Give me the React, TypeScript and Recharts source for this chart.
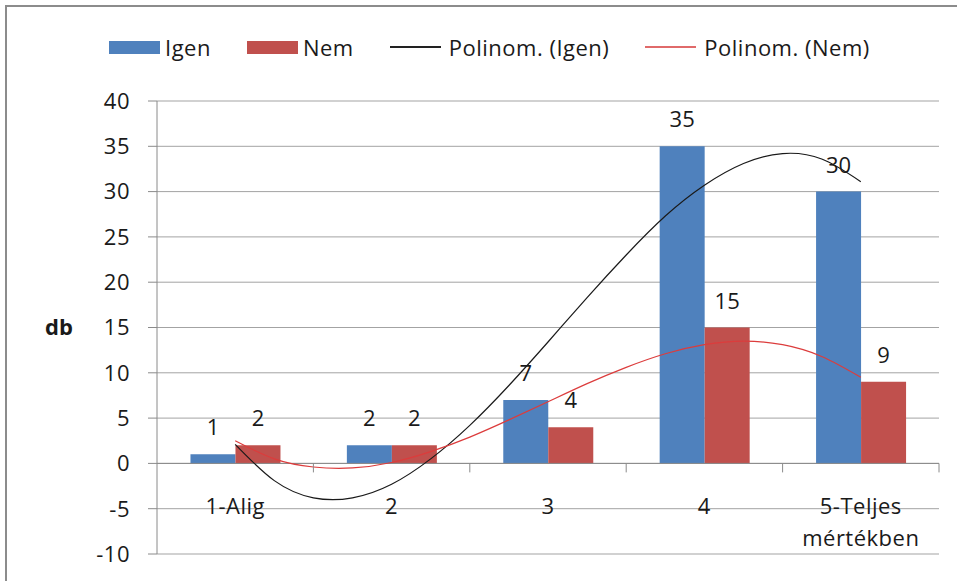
import React from 'react';
import {
  ComposedChart,
  Bar,
  Line,
  XAxis,
  YAxis,
  CartesianGrid,
  ReferenceLine,
  LabelList,
} from 'recharts';

const categories = ['1-Alig', '2', '3', '4', '5-Teljes\nmértékben'];
const igen = [1, 2, 7, 35, 30];
const nem = [2, 2, 4, 15, 9];

// polynomial trendlines at quarter steps between categories
const trendX = [1, 1.25, 1.5, 1.75, 2, 2.25, 2.5, 2.75, 3, 3.25, 3.5, 3.75, 4, 4.25, 4.5, 4.75, 5];
const igenTrend = [2.1, -1.9, -3.8, -3.8, -2.3, 0.5, 4.2, 8.6, 13.4, 18.3, 23.0, 27.3, 30.7, 33.1, 34.2, 33.6, 31.1];
const nemTrend = [2.5, 0.5, -0.4, -0.5, 0.1, 1.3, 2.9, 4.8, 6.8, 8.8, 10.6, 12.1, 13.1, 13.5, 13.1, 11.8, 9.5];

const yTicks = [-10, -5, 0, 5, 10, 15, 20, 25, 30, 35, 40];

const W = 957;
const H = 581;
const MARGIN = { top: 101, right: 18, bottom: 0, left: 0 };
const Y_AXIS_W = 157;
const X_AXIS_H = 27;
const PLOT_W = W - MARGIN.left - MARGIN.right - Y_AXIS_W;
const PLOT_H = H - MARGIN.top - MARGIN.bottom - X_AXIS_H;
const Y_MIN = -10;
const Y_MAX = 40;
const ZERO_Y = MARGIN.top + (PLOT_H * Y_MAX) / (Y_MAX - Y_MIN);
const BAND = PLOT_W / categories.length;

const BLUE = '#4f81bd';
const RED = '#c0504d';
const AXIS = '#8a8a8a';
const GRID = '#a3a3a3';
const TEXT = '#1a1a1a';
const FONT = '"Open Sans", sans-serif';

const data = categories.map((name, i) => ({ name, igen: igen[i], nem: nem[i] }));
const trendData = trendX.map((x, i) => ({ x, igen: igenTrend[i], nem: nemTrend[i] }));

const CategoryTick = (props: any) => {
  const { x, payload } = props;
  const lines = String(payload.value).split('\n');
  return (
    <g>
      <line x1={x + BAND / 2} x2={x + BAND / 2} y1={ZERO_Y} y2={ZERO_Y + 9} stroke={AXIS} strokeWidth={1} />
      <text
        x={x}
        y={ZERO_Y + 51}
        textAnchor="middle"
        fill={TEXT}
        fontSize={22}
        fontFamily={FONT}
        letterSpacing={0.5}
      >
        {lines.map((l, i) => (
          <tspan key={i} x={x} dy={i === 0 ? 0 : 32}>
            {l}
          </tspan>
        ))}
      </text>
    </g>
  );
};

const legendItems = [
  { label: 'Igen', kind: 'rect', color: BLUE },
  { label: 'Nem', kind: 'rect', color: RED },
  { label: 'Polinom. (Igen)', kind: 'line', color: '#222' },
  { label: 'Polinom. (Nem)', kind: 'line', color: '#e06a6a' },
];

const LegendBox = () => (
  <div
    style={{
      position: 'absolute',
      left: 109,
      top: 33,
      display: 'flex',
      alignItems: 'center',
      fontFamily: FONT,
      fontSize: 22,
      letterSpacing: 0.5,
      color: TEXT,
      lineHeight: '28px',
    }}
  >
    {legendItems.map((it, i) => (
      <div key={i} style={{ display: 'flex', alignItems: 'center', marginRight: 36 }}>
        {it.kind === 'rect' ? (
          <div style={{ width: 51, height: 13, background: it.color, marginRight: 5 }} />
        ) : (
          <div style={{ width: 51, height: 1.5, background: it.color, marginRight: 8 }} />
        )}
        <span>{it.label}</span>
      </div>
    ))}
  </div>
);

export default function App() {
  return (
    <div style={{ position: 'absolute', left: 0, top: 0, width: W, height: H, background: '#fff', overflow: 'hidden' }}>
      <div
        style={{
          position: 'absolute',
          left: 5,
          top: 5,
          width: W,
          height: H,
          borderTop: '2px solid #8c8c8c',
          borderLeft: '2px solid #8c8c8c',
        }}
      />
      <ComposedChart
        width={W}
        height={H}
        data={data}
        margin={MARGIN}
        barCategoryGap="21.4%"
        barGap={0}
        style={{ position: 'absolute', left: 0, top: 0, fontFamily: FONT }}
      >
        <CartesianGrid vertical={false} stroke={GRID} strokeWidth={1} />
        <XAxis
          dataKey="name"
          height={X_AXIS_H}
          axisLine={false}
          tickLine={false}
          interval={0}
          tick={<CategoryTick />}
        />
        <XAxis xAxisId="trend" type="number" dataKey="x" domain={[0.5, 5.5]} hide allowDataOverflow />
        <YAxis
          width={Y_AXIS_W}
          domain={[Y_MIN, Y_MAX]}
          ticks={yTicks}
          interval={0}
          stroke={AXIS}
          tickSize={9}
          tickMargin={18}
          tick={{ fill: TEXT, fontSize: 22, fontFamily: FONT, letterSpacing: 0.5 }}
          label={{
            value: 'db',
            position: 'insideLeft',
            offset: 45,
            fill: TEXT,
            fontSize: 22,
            fontWeight: 700,
            fontFamily: FONT,
          }}
        />
        <ReferenceLine y={0} stroke={AXIS} strokeWidth={1} />
        <Bar dataKey="igen" fill={BLUE} isAnimationActive={false}>
          <LabelList dataKey="igen" position="top" offset={19} fill={TEXT} fontSize={22} fontFamily={FONT} />
        </Bar>
        <Bar dataKey="nem" fill={RED} isAnimationActive={false}>
          <LabelList dataKey="nem" position="top" offset={19} fill={TEXT} fontSize={22} fontFamily={FONT} />
        </Bar>
        <Line
          xAxisId="trend"
          data={trendData}
          dataKey="igen"
          type="natural"
          stroke="#1a1a1a"
          strokeWidth={1.2}
          dot={false}
          activeDot={false}
          isAnimationActive={false}
        />
        <Line
          xAxisId="trend"
          data={trendData}
          dataKey="nem"
          type="natural"
          stroke="#dc3c3c"
          strokeWidth={1.2}
          dot={false}
          activeDot={false}
          isAnimationActive={false}
        />
      </ComposedChart>
      <LegendBox />
    </div>
  );
}
